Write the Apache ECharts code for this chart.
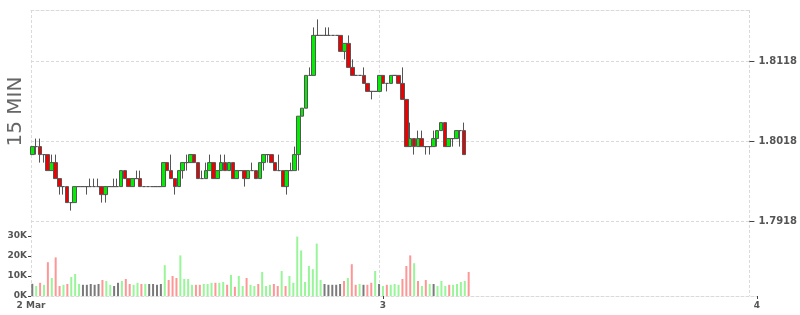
<!DOCTYPE html>
<html><head><meta charset="utf-8">
<script src="https://cdn.jsdelivr.net/npm/echarts@6/dist/echarts.min.js"></script>
<style>html,body{margin:0;padding:0;background:#fff}#c{width:800px;height:315px}</style>
</head><body><div id="c"></div>
<script>
// ---- axis range / ticks ----
const axisStart = new Date(2015, 2, 2, 1, 25).getTime();
const axisEnd = new Date(2015, 2, 4, 0, 0).getTime();
const firstBar = new Date(2015, 2, 2, 1, 30).getTime();
const barStep = 15 * 60 * 1000;
const dayTicks = [new Date(2015, 2, 3).getTime(), axisEnd];
const priceTicks = [1.7918, 1.8018, 1.8118];
const priceMin = 1.782425, priceMax = 1.818175;
const volumeTicks = [0, 10000, 20000, 30000];
const volumeMax = 37500;

// ---- 15 min candles ----
const opens = [
1.8001,1.8011,1.8011,1.8001,1.8001,1.7981,1.7991,1.7971,1.7961,1.7961,
1.7941,1.7941,1.7961,1.7961,1.7961,1.7961,1.7961,1.7961,1.7961,1.7951,
1.7961,1.7961,1.7961,1.7961,1.7981,1.7971,1.7961,1.7971,1.7971,1.7961,
1.7961,1.7961,1.7961,1.7961,1.7961,1.7991,1.7981,1.7971,1.7961,1.7981,
1.7991,1.7991,1.8001,1.7991,1.7971,1.7971,1.7981,1.7991,1.7971,1.7981,
1.7991,1.7981,1.7991,1.7971,1.7981,1.7981,1.7971,1.7981,1.7981,1.7971,
1.7991,1.8001,1.8001,1.7991,1.7981,1.7981,1.7961,1.7981,1.7981,1.8001,
1.8049,1.8059,1.8100,1.8100,1.8150,1.8150,1.8150,1.8150,1.8150,1.8150,
1.8150,1.8130,1.8140,1.8110,1.8100,1.8100,1.8100,1.8090,1.8080,1.8080,
1.8080,1.8100,1.8090,1.8090,1.8100,1.8100,1.8090,1.8070,1.8011,1.8021,
1.8011,1.8021,1.8011,1.8011,1.8011,1.8021,1.8031,1.8041,1.8011,1.8021,
1.8021,1.8031,1.8031];
const closes = [
1.8011,1.8011,1.8001,1.8001,1.7981,1.7991,1.7971,1.7961,1.7961,1.7941,
1.7941,1.7961,1.7961,1.7961,1.7961,1.7961,1.7961,1.7961,1.7951,1.7961,
1.7961,1.7961,1.7961,1.7981,1.7971,1.7961,1.7971,1.7971,1.7961,1.7961,
1.7961,1.7961,1.7961,1.7961,1.7991,1.7981,1.7971,1.7961,1.7981,1.7991,
1.7991,1.8001,1.7991,1.7971,1.7971,1.7981,1.7991,1.7971,1.7981,1.7991,
1.7981,1.7991,1.7971,1.7981,1.7981,1.7971,1.7981,1.7981,1.7971,1.7991,
1.8001,1.8001,1.7991,1.7981,1.7981,1.7961,1.7981,1.7981,1.8001,1.8049,
1.8059,1.8100,1.8100,1.8150,1.8150,1.8150,1.8150,1.8150,1.8150,1.8150,
1.8130,1.8140,1.8110,1.8100,1.8100,1.8100,1.8090,1.8080,1.8080,1.8080,
1.8100,1.8090,1.8090,1.8100,1.8100,1.8090,1.8070,1.8011,1.8021,1.8011,
1.8021,1.8011,1.8011,1.8011,1.8021,1.8031,1.8041,1.8011,1.8021,1.8021,
1.8031,1.8031,1.8001];
const lows = [
1.8001,1.8001,1.7991,1.7991,1.7981,1.7981,1.7971,1.7951,1.7951,1.7941,
1.7931,1.7941,1.7961,1.7961,1.7951,1.7961,1.7961,1.7961,1.7941,1.7941,
1.7961,1.7961,1.7961,1.7961,1.7971,1.7961,1.7961,1.7971,1.7961,1.7961,
1.7961,1.7961,1.7961,1.7961,1.7961,1.7981,1.7971,1.7951,1.7961,1.7971,
1.7981,1.7991,1.7991,1.7971,1.7971,1.7971,1.7981,1.7971,1.7971,1.7981,
1.7981,1.7981,1.7971,1.7971,1.7981,1.7961,1.7971,1.7981,1.7971,1.7971,
1.7981,1.7991,1.7991,1.7981,1.7981,1.7961,1.7951,1.7981,1.7981,1.7981,
1.8049,1.8059,1.8100,1.8100,1.8150,1.8150,1.8150,1.8150,1.8150,1.8150,
1.8130,1.8120,1.8110,1.8100,1.8100,1.8100,1.8090,1.8080,1.8070,1.8080,
1.8080,1.8090,1.8080,1.8090,1.8100,1.8090,1.8070,1.8011,1.8011,1.8001,
1.8011,1.8011,1.8001,1.8001,1.8011,1.8011,1.8031,1.8011,1.8011,1.8011,
1.8021,1.8011,1.8001];
const highs = [
1.8011,1.8021,1.8021,1.8001,1.8001,1.8001,1.8001,1.7971,1.7961,1.7961,
1.7941,1.7961,1.7961,1.7961,1.7961,1.7971,1.7971,1.7971,1.7961,1.7961,
1.7961,1.7971,1.7971,1.7981,1.7981,1.7971,1.7971,1.7981,1.7981,1.7961,
1.7961,1.7961,1.7961,1.7961,1.7991,1.7991,1.8001,1.7971,1.7981,1.7991,
1.8001,1.8001,1.8001,1.7991,1.7981,1.7991,1.8001,1.7991,1.7981,1.8001,
1.8001,1.7991,1.7991,1.7981,1.7981,1.7981,1.7981,1.7991,1.7981,1.7991,
1.8001,1.8001,1.8001,1.7991,1.8001,1.7981,1.7981,1.7991,1.8011,1.8049,
1.8059,1.8100,1.8110,1.8160,1.8170,1.8150,1.8160,1.8160,1.8150,1.8150,
1.8150,1.8140,1.8150,1.8120,1.8100,1.8100,1.8110,1.8090,1.8080,1.8080,
1.8100,1.8100,1.8090,1.8100,1.8100,1.8100,1.8110,1.8070,1.8041,1.8021,
1.8031,1.8031,1.8011,1.8011,1.8031,1.8031,1.8041,1.8041,1.8021,1.8021,
1.8031,1.8031,1.8041];

// ---- volume ----
const volumes = [
6100,5000,6600,5600,16900,9000,19300,5000,5600,6000,
9500,11000,6000,5600,5600,6000,5600,6000,8000,7500,
5600,5000,6600,7500,8500,6000,5600,6600,6000,6000,
6000,6000,5600,6000,15400,8000,10000,9000,20300,8500,
8500,5600,5600,5600,6000,6000,6600,6600,6600,7000,
5600,10500,4600,10000,5000,9000,5600,5000,6000,12000,
5000,5600,6000,5000,12500,5000,10000,6600,29700,22800,
7000,15000,13400,26200,8000,6000,5600,5600,5600,6000,
7500,9000,15900,5600,6000,5600,5600,6600,12500,6000,
5000,5600,5600,6000,5600,8500,15000,20300,16400,7500,
5000,8000,6000,6000,5000,7500,5000,5600,5600,6000,
7000,7500,12000];
// 1 = up, -1 = down, 0 = unchanged
const volumeDir = [
0,1,-1,1,-1,1,-1,-1,1,-1,
1,1,1,0,0,0,0,0,-1,1,
1,0,0,1,-1,-1,1,1,-1,1,
0,0,0,0,1,-1,-1,-1,1,1,
1,1,-1,-1,1,1,1,-1,1,1,
-1,1,-1,1,1,-1,1,1,-1,1,
1,1,-1,-1,1,-1,1,1,1,1,
1,1,1,1,1,0,0,0,0,0,
-1,1,-1,-1,1,0,-1,-1,1,0,
1,-1,1,1,1,-1,-1,-1,1,-1,
1,-1,1,0,1,1,1,-1,1,1,
1,1,-1];

const times = opens.map((_, i) => firstBar + i * barStep);
const candleData = times.map((t, i) => [t, opens[i], closes[i], lows[i], highs[i]]);
const volumeData = times.map((t, i) => [t, volumes[i]]);
const volColors = {'1': '#99f599', '-1': '#ff9696', '0': '#7a7a7a'};

const FONT = '"DejaVu Sans", Verdana, sans-serif';
const lbl = {color: '#555', fontFamily: FONT, fontWeight: 'bold', fontSize: 9};
const dashed = {color: '#dadada', type: [3, 2], width: 1};
const tickLine = {color: '#444', width: 1};

const chart = echarts.init(document.getElementById('c'), null, {renderer: 'canvas'});
chart.setOption({
  animation: false,
  backgroundColor: '#fff',
  grid: [
    {left: 31, right: 43, top: 10, bottom: 19},
    {left: 31, right: 43, top: 221, bottom: 19}
  ],
  xAxis: [
    {gridIndex: 0, type: 'value', position: 'top', min: axisStart, max: axisEnd,
     axisLine: {show: true, lineStyle: dashed},
     axisTick: {show: false, customValues: [axisStart].concat(dayTicks)},
     axisLabel: {show: false},
     splitLine: {show: true, lineStyle: dashed}},
    {gridIndex: 1, type: 'value', position: 'bottom', min: axisStart, max: axisEnd,
     axisLine: {show: true, lineStyle: dashed},
     axisTick: {show: true, length: 3, customValues: dayTicks, lineStyle: tickLine},
     axisLabel: Object.assign({customValues: [axisStart].concat(dayTicks), margin: 5,
       formatter: v => { const d = new Date(v); return v === axisStart ? d.getDate() + ' Mar' : String(d.getDate()); }}, lbl),
     splitLine: {show: false}}
  ],
  yAxis: [
    {gridIndex: 0, type: 'value', position: 'right', min: priceMin, max: priceMax,
     axisLine: {show: false},
     axisTick: {show: true, length: 5, customValues: priceTicks, lineStyle: tickLine},
     axisLabel: Object.assign({}, lbl, {customValues: priceTicks, margin: 3, padding: [0, 0, 0, 6], fontSize: 10, formatter: v => v.toFixed(4)}),
     splitLine: {show: true, lineStyle: dashed}},
    {gridIndex: 1, type: 'value', position: 'left', min: 0, max: volumeMax,
     axisLine: {show: false},
     axisTick: {show: true, length: 3, customValues: volumeTicks, lineStyle: tickLine},
     axisLabel: Object.assign({customValues: volumeTicks, margin: 4, formatter: v => (v / 1000) + 'K'}, lbl),
     splitLine: {show: false}}
  ],
  graphic: [{
    type: 'text', x: 15.5, y: 111.5, rotation: Math.PI / 2,
    style: {text: '15 MIN', fill: '#666', font: '20px "DejaVu Sans"', align: 'center', verticalAlign: 'middle'}
  }],
  series: [
    {type: 'bar', xAxisIndex: 1, yAxisIndex: 1, data: volumeData, barWidth: 2,
     itemStyle: {color: p => volColors[String(volumeDir[p.dataIndex])]}},
    {type: 'candlestick', xAxisIndex: 0, yAxisIndex: 0, data: candleData, barWidth: 4,
     itemStyle: {color: '#00ee00', color0: '#ee0000', borderColor: '#555', borderColor0: '#555', borderColorDoji: '#555', borderWidth: 1}}
  ]
});
</script>
</body></html>
